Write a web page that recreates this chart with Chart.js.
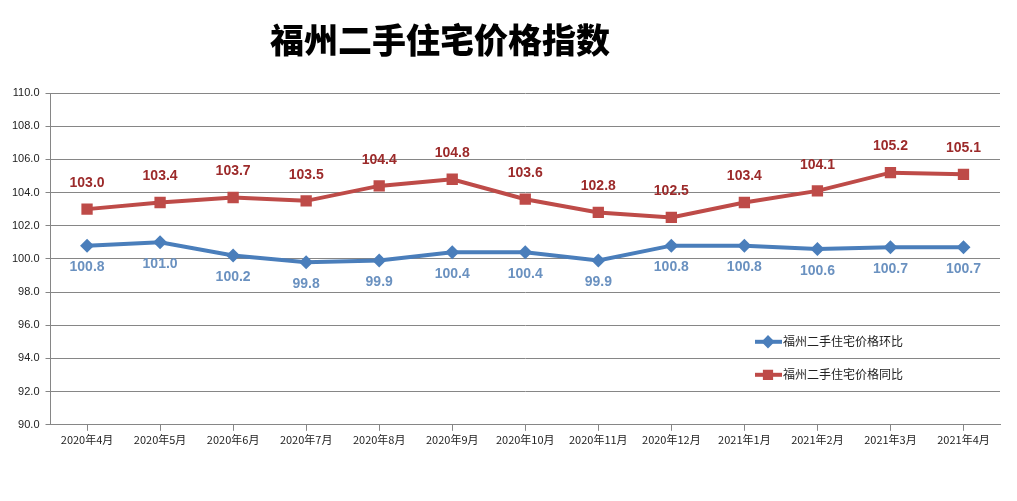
<!DOCTYPE html>
<html>
<head>
<meta charset="utf-8">
<script src="https://cdn.jsdelivr.net/npm/chart.js@4.4.0/dist/chart.umd.min.js"></script>
<style>
    html, body { margin: 0; padding: 0; background: #fff; }
    #wrap { position: relative; width: 1017px; height: 501px; }
    #title {
        position: absolute; left: 270px; top: 16px; margin: 0;
        font-family: "Noto Sans CJK SC", sans-serif; font-weight: 900;
        font-size: 34px; color: #000; line-height: 46px;
    }
</style>
</head>
<body>
<div id="wrap">
    <canvas id="chart" width="1017" height="501"></canvas>
    <h1 id="title">福州二手住宅价格指数</h1>
</div>
<script>
    'use strict';

    var months = ['2020年4月', '2020年5月', '2020年6月', '2020年7月', '2020年8月', '2020年9月',
        '2020年10月', '2020年11月', '2020年12月', '2021年1月', '2021年2月', '2021年3月', '2021年4月'];
    var hbValues = [100.8, 101.0, 100.2, 99.8, 99.9, 100.4, 100.4, 99.9, 100.8, 100.8, 100.6, 100.7, 100.7];
    var tbValues = [103.0, 103.4, 103.7, 103.5, 104.4, 104.8, 103.6, 102.8, 102.5, 103.4, 104.1, 105.2, 105.1];
    var seriesNames = ['福州二手住宅价格环比', '福州二手住宅价格同比'];

    // value labels above / below each point, plus the legend inside the plot
    var pointLabels = {
        id: 'pointLabels',
        afterDatasetsDraw: function (chart) {
            var ctx = chart.ctx;
            ctx.save();
            ctx.textAlign = 'center';
            ctx.textBaseline = 'middle';
            ctx.font = 'bold 14px "Liberation Sans", Arial, sans-serif';
            chart.data.datasets.forEach(function (ds, i) {
                var meta = chart.getDatasetMeta(i);
                ctx.fillStyle = ds.labelColor;
                meta.data.forEach(function (pt, j) {
                    ctx.fillText(ds.data[j].toFixed(1), pt.x, pt.y + ds.labelOffset);
                });
            });

            // legend
            var area = chart.chartArea;
            var lx = area.right - 245;
            var ly = area.bottom - 83;
            ctx.textAlign = 'left';
            ctx.font = '12px "Noto Sans CJK SC", sans-serif';
            chart.data.datasets.forEach(function (ds, i) {
                var y = ly + i * 33;
                ctx.strokeStyle = ds.borderColor;
                ctx.lineWidth = 4;
                ctx.beginPath();
                ctx.moveTo(lx, y);
                ctx.lineTo(lx + 27, y);
                ctx.stroke();
                Chart.helpers.drawPoint(ctx, {
                    pointStyle: ds.pointStyle,
                    radius: ds.pointRadius * 0.55,
                    borderWidth: 1
                }, lx + 13, y);
                ctx.fillStyle = ds.borderColor;
                ctx.fill();
                ctx.fillStyle = '#222';
                ctx.fillText(ds.label, lx + 28, y);
            });
            ctx.restore();
        }
    };

    new Chart(document.getElementById('chart'), {
        type: 'line',
        data: {
            labels: months,
            datasets: [
                {
                    label: seriesNames[0],
                    data: hbValues,
                    borderColor: '#4a7ebb',
                    backgroundColor: '#4a7ebb',
                    borderWidth: 4,
                    pointStyle: 'rectRot',
                    pointRadius: 7,
                    pointBorderWidth: 0,
                    tension: 0,
                    labelColor: '#6a91c0',
                    labelOffset: 22
                },
                {
                    label: seriesNames[1],
                    data: tbValues,
                    borderColor: '#be4b48',
                    backgroundColor: '#be4b48',
                    borderWidth: 4,
                    pointStyle: 'rect',
                    pointRadius: 8,
                    pointBorderWidth: 0,
                    tension: 0,
                    labelColor: '#9c2a2a',
                    labelOffset: -26
                }
            ]
        },
        options: {
            responsive: false,
            animation: false,
            layout: { padding: { top: 93, right: 17, left: 6, bottom: 53 } },
            plugins: {
                legend: { display: false },
                tooltip: { enabled: false }
            },
            scales: {
                x: {
                    offset: true,
                    grid: {
                        drawOnChartArea: false,
                        drawTicks: true,
                        tickLength: 6,
                        color: '#868686'
                    },
                    border: { color: '#868686', width: 1 },
                    ticks: {
                        color: '#222',
                        font: { size: 11, family: '"Noto Sans CJK SC", sans-serif' },
                        maxRotation: 0,
                        autoSkip: false,
                        padding: 2
                    }
                },
                y: {
                    min: 90,
                    max: 110,
                    grid: {
                        color: '#868686',
                        tickLength: 5
                    },
                    border: { color: '#868686', width: 1 },
                    ticks: {
                        stepSize: 2,
                        color: '#222',
                        font: { size: 11, family: '"Liberation Sans", Arial, sans-serif' },
                        padding: 6,
                        callback: function (v) { return v.toFixed(1); }
                    }
                }
            }
        },
        plugins: [pointLabels]
    });
</script>
</body>
</html>
